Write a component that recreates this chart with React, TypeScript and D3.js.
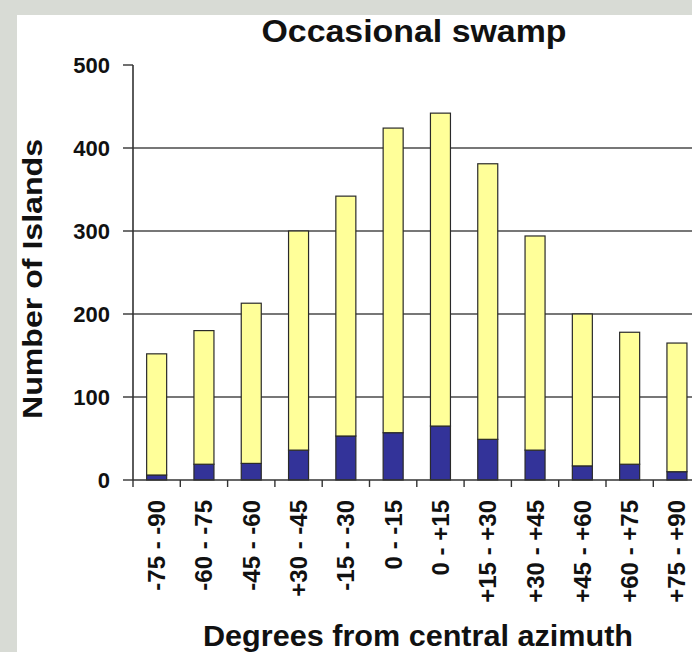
import React from "react";
import * as d3 from "d3";

const categories = [
  "-75 - -90", "-60 - -75", "-45 - -60", "+30 - -45", "-15 - -30", "0 - -15",
  "0 - +15", "+15 - +30", "+30 - +45", "+45 - +60", "+60 - +75", "+75 - +90",
];
const swampValues = [6, 19, 20, 36, 53, 57, 65, 49, 36, 17, 19, 10];
const otherValues = [146, 161, 193, 264, 289, 367, 377, 332, 258, 183, 159, 155];
const yTicks = [0, 100, 200, 300, 400, 500];
const gridValues = [100, 200, 300, 400];

const W = 692;
const H = 652;
const FONT = "'Liberation Sans', Arial, sans-serif";

export default function App() {
  const x0 = 133;
  const step = 47.3;
  const x = d3
    .scaleBand<string>()
    .domain(categories)
    .range([x0, x0 + step * categories.length])
    .paddingInner(0.577)
    .paddingOuter(0.2885);
  const y = d3.scaleLinear().domain([0, 500]).range([480, 65]);

  const rows = categories.map((c, i) => ({ cat: c, swamp: swampValues[i], other: otherValues[i] }));
  const stack = d3.stack<any>().keys(["swamp", "other"])(rows);
  const colors: Record<string, string> = { swamp: "#333399", other: "#FFFF99" };

  const boundaries = d3.range(categories.length + 1).map((i) => x0 + i * x.step());

  return (
    <svg
      width={W}
      height={H}
      style={{ position: "absolute", left: 0, top: 0 }}
      fontFamily={FONT}
    >
      <rect x={0} y={0} width={W} height={H} fill="#d8dbd5" />
      <rect x={17} y={15} width={W - 17} height={H - 15} fill="#ffffff" />

      <text
        x={414}
        y={42}
        textAnchor="middle"
        fontSize={32}
        fontWeight="bold"
        textLength={305}
        lengthAdjust="spacingAndGlyphs"
        fill="#111"
      >
        Occasional swamp
      </text>

      {gridValues.map((v) => (
        <line key={v} x1={x0} x2={W} y1={y(v)} y2={y(v)} stroke="#4a4a4a" strokeWidth={1.6} />
      ))}

      {stack.map((layer) =>
        layer.map((d, i) => (
          <rect
            key={layer.key + i}
            x={x(categories[i])!}
            y={y(d[1])}
            width={x.bandwidth()}
            height={y(d[0]) - y(d[1])}
            fill={colors[layer.key]}
            stroke="#2a2a2a"
            strokeWidth={1.2}
          />
        ))
      )}

      {/* y axis */}
      <line x1={x0} x2={x0} y1={y(500)} y2={y(0)} stroke="#333" strokeWidth={1.6} />
      {yTicks.map((v) => (
        <g key={v}>
          <line x1={x0 - 10} x2={x0} y1={y(v)} y2={y(v)} stroke="#333" strokeWidth={1.4} />
          <text
            x={110}
            y={y(v)}
            dy="0.36em"
            textAnchor="end"
            fontSize={22}
            fontWeight="bold"
            fill="#111"
          >
            {v}
          </text>
        </g>
      ))}

      {/* x axis */}
      <line x1={x0} x2={W} y1={y(0)} y2={y(0)} stroke="#333" strokeWidth={1.6} />
      {boundaries.map((b, i) => (
        <line key={i} x1={b} x2={b} y1={y(0)} y2={y(0) + 7} stroke="#333" strokeWidth={1.4} />
      ))}
      {categories.map((c) => {
        const cx = x(c)! + x.bandwidth() / 2;
        return (
          <text
            key={c}
            transform={`translate(${cx},500) rotate(-90)`}
            textAnchor="end"
            dominantBaseline="central"
            fontSize={24}
            fontWeight="bold"
            fill="#111"
          >
            {c}
          </text>
        );
      })}

      <text
        transform="translate(42,279) rotate(-90)"
        textAnchor="middle"
        fontSize={28}
        fontWeight="bold"
        textLength={280}
        lengthAdjust="spacingAndGlyphs"
        fill="#111"
      >
        Number of Islands
      </text>

      <text
        x={418}
        y={646}
        textAnchor="middle"
        fontSize={29}
        fontWeight="bold"
        textLength={430}
        lengthAdjust="spacingAndGlyphs"
        fill="#111"
      >
        Degrees from central azimuth
      </text>
    </svg>
  );
}
